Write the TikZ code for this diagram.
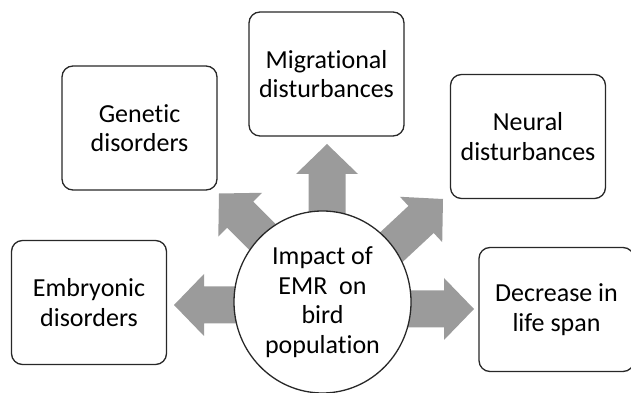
\documentclass[tikz,border=0pt]{standalone}
\usepackage{fontspec}
\setmainfont{Carlito}[Ligatures=NoCommon]
\usetikzlibrary{shapes.geometric}
\definecolor{arrowgray}{RGB}{155,155,155}
\definecolor{linegray}{RGB}{40,40,40}
\begin{document}
\begin{tikzpicture}[x=1pt,y=1pt,
  txt/.style={align=center,font=\fontsize{26}{29.5}\selectfont,text=black},
  box/.style={txt,draw=linegray,line width=1.3pt,rounded corners=11pt,
    minimum width=155pt,minimum height=124pt,inner sep=0pt},
  hub/.style={txt,draw=linegray,line width=1.3pt,ellipse,fill=white,
    minimum width=177pt,minimum height=182pt,inner sep=0pt},
  pics/blockarrow/.style={code={
    \fill[arrowgray] (0,0) -- (-30,31) -- (-30,18.5) -- (-#1,18.5)
      -- (-#1,-18.5) -- (-30,-18.5) -- (-30,-31) -- cycle;}}]
\useasboundingbox (0,0) rectangle (631,393);
\clip (0,0) rectangle (631,393);
% arrow tips
\coordinate (tipU) at (327,249);
\coordinate (tipL) at (174,88);
\coordinate (tipR) at (474,84);
\coordinate (tipUL) at (219,199.5);
\coordinate (tipUR) at (443,194);
\pic[rotate=90] at (tipU) {blockarrow=78};
\pic[rotate=180] at (tipL) {blockarrow=78};
\pic[rotate=0] at (tipR) {blockarrow=78};
\pic[rotate=135] at (tipUL) {blockarrow=80};
\pic[rotate=43] at (tipUR) {blockarrow=80};
% hub
\node[hub] (hub) at (322.5,91) {Impact of\\EMR\ \ on\\bird\\population};
% boxes
\node[box] (mig) at (326.5,319) {Migrational\\disturbances};
\node[box] (gen) at (139.5,265) {Genetic\\disorders};
\node[box] (neu) at (528,256.5) {Neural\\disturbances};
\node[box] (emb) at (89,90.5) {Embryonic\\disorders};
\node[box] (dec) at (556.5,83.5) {Decrease in\\life span};
\end{tikzpicture}
\end{document}
